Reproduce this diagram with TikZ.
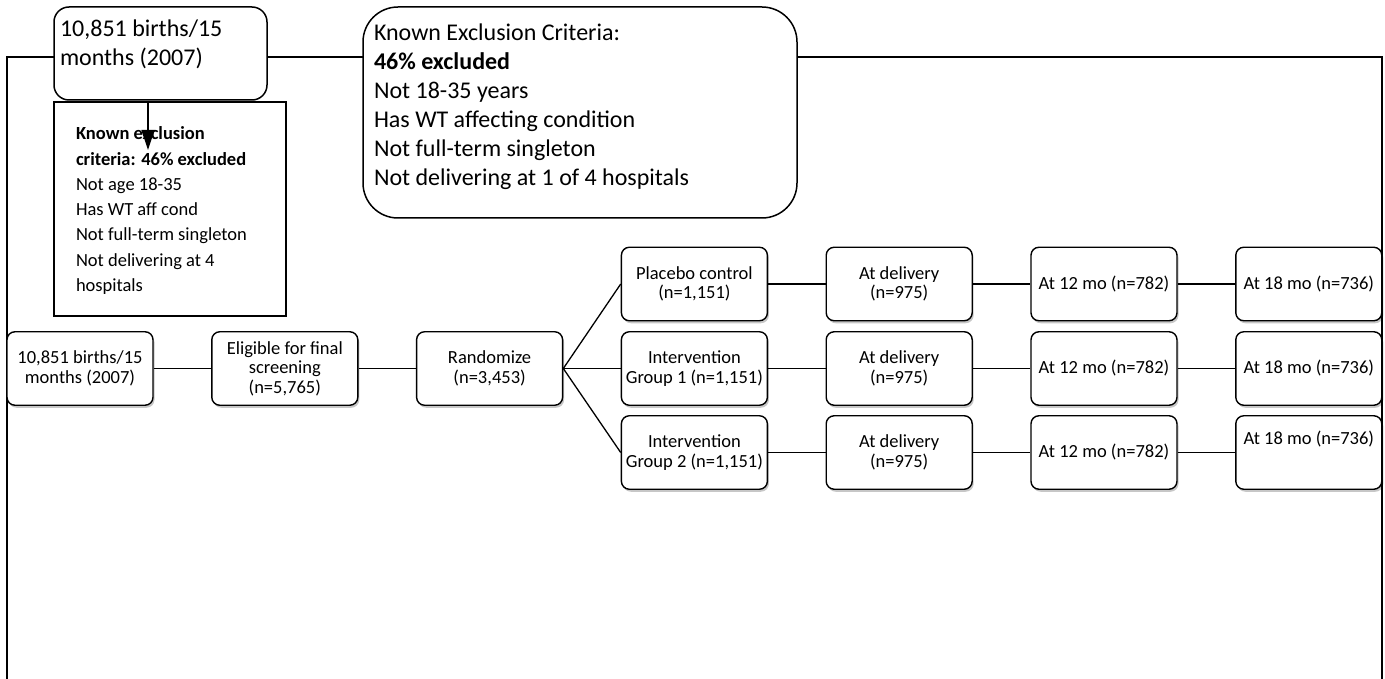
\documentclass[tikz,border=0pt]{standalone}
\usepackage{fontspec}
\setmainfont{Carlito}
\usetikzlibrary{shadows,arrows.meta}
\begin{document}
\begin{tikzpicture}[x=1pt,y=-1pt,
 flow/.style={draw, line width=1.4pt, rounded corners=8pt, fill=white, minimum width=146pt, minimum height=73.5pt, inner sep=1pt, align=center, font=\fontsize{18.5}{19.5}\selectfont, drop shadow={shadow xshift=1.5pt, shadow yshift=-2.5pt, opacity=0.22, fill=black}},
 conn/.style={line width=1.3pt},
 framel/.style={line width=2.4pt},
 note/.style={draw, line width=1.5pt, fill=white, inner sep=0pt},
]
\useasboundingbox (0,0) rectangle (1385,679);
% outer frame
\coordinate (fbl) at (7,700);
\coordinate (ftl) at (7,57);
\coordinate (ftr) at (1382,57);
\coordinate (fbr) at (1382,700);
\draw[framel] (fbl) -- (ftl) -- (ftr) -- (fbr);

% criteria rectangle
\node[note] (crit) at (170,209) {\parbox[c][214pt][t]{232pt}{\fontsize{18.5}{25.3}\selectfont\leftskip=22pt\relax
\vspace*{20pt}\strut\textbf{Known exclusion}\\
\textbf{criteria: 46\% excluded}\\
Not age 18-35\\
Has WT aff cond\\
Not full-term singleton\\
Not delivering at 4\\
hospitals\par}};

% top-left box
\node[note, rounded corners=15pt] (top1) at (160.5,53.5) {\parbox[c][93pt][t]{213pt}{\fontsize{24}{29}\selectfont\leftskip=6pt\relax
\vspace*{9.5pt}\strut 10,851 births/15\\
months (2007)\par}};

% big exclusion box
\node[note, rounded corners=35pt] (topx) at (580,112.5) {\parbox[c][211pt][t]{434pt}{\fontsize{24}{29}\selectfont\leftskip=11pt\relax
\vspace*{13.7pt}\strut Known Exclusion Criteria:\\
\textbf{46\% excluded}\\
Not 18-35 years\\
Has WT affecting condition\\
Not full-term singleton\\
Not delivering at 1 of 4 hospitals\par}};

% arrow
\coordinate (atip) at (148,150);
\draw[conn, -{Triangle[length=20pt,width=13pt]}] (atip |- top1.south) -- (atip);

% main row
\node[flow] (b1) at (80,368.5) {10,851 births/15\\months (2007)};
\node[flow] (b2) at (284.8,368.5) {Eligible for final\\screening\\(n=5,765)};
\node[flow] (b3) at (489.6,368.5) {Randomize\\(n=3,453)};

% groups
\node[flow] (g1) at (694.4,284) {Placebo control\\(n=1,151)};
\node[flow] (g2) at (694.4,368.5) {Intervention\\Group 1 (n=1,151)};
\node[flow] (g3) at (694.4,452.5) {Intervention\\Group 2 (n=1,151)};

\node[flow] (d1) at (899.2,284) {At delivery\\(n=975)};
\node[flow] (d2) at (899.2,368.5) {At delivery\\(n=975)};
\node[flow] (d3) at (899.2,452.5) {At delivery\\(n=975)};

\node[flow] (m1) at (1104,284) {At 12 mo (n=782)};
\node[flow] (m2) at (1104,368.5) {At 12 mo (n=782)};
\node[flow] (m3) at (1104,452.5) {At 12 mo (n=782)};

\node[flow] (e1) at (1308.8,284) {At 18 mo (n=736)};
\node[flow] (e2) at (1308.8,368.5) {At 18 mo (n=736)};
\node[flow] (e3) at (1308.8,452.5) {\raisebox{8pt}[0pt][0pt]{At 18 mo (n=736)}};

% connectors
\draw[conn] (b1) -- (b2);
\draw[conn] (b2) -- (b3);
\draw[conn] (b3.east) -- (g1.west);
\draw[conn] (b3.east) -- (g2.west);
\draw[conn] (b3.east) -- (g3.west);
\foreach \r in {1,2,3} {
  \draw[conn] (g\r) -- (d\r);
  \draw[conn] (d\r) -- (m\r);
  \draw[conn] (m\r) -- (e\r);
}
\end{tikzpicture}
\end{document}
